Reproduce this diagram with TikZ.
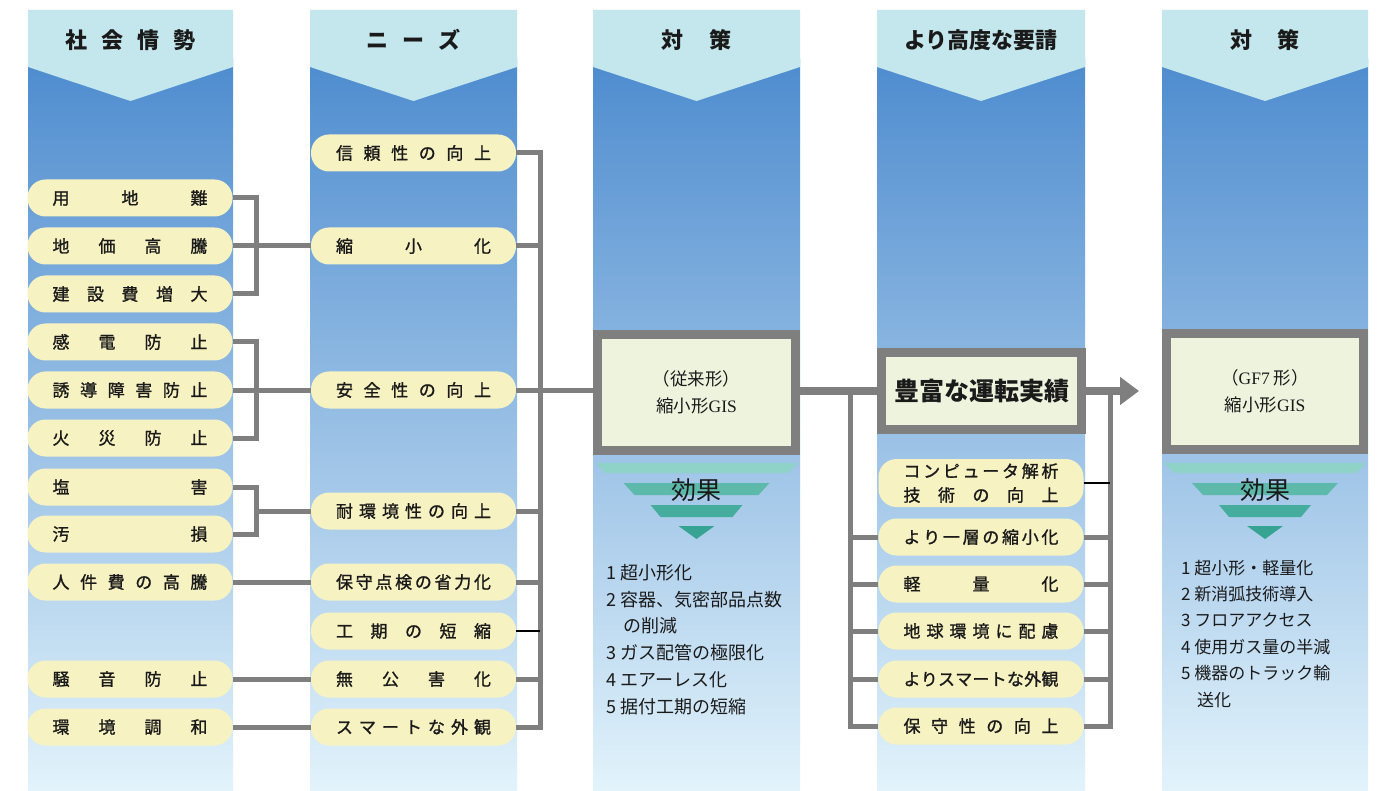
\documentclass[tikz,border=0pt]{standalone}
\usepackage{fontspec}
\setmainfont{Noto Sans CJK JP}
\newfontfamily\medfont[FakeBold=1.2]{Noto Sans CJK JP}
\newfontfamily\serlat{Liberation Serif}
\usetikzlibrary{arrows.meta,calc}
\definecolor{hdr}{HTML}{C3E7EC}
\definecolor{ctop}{HTML}{4E8CCF}
\definecolor{cmid}{HTML}{A5CFEE}
\definecolor{cbot}{HTML}{E2F3FB}
\definecolor{pillc}{HTML}{F7F2C2}
\definecolor{linec}{HTML}{7F7F7F}
\definecolor{boxc}{HTML}{EEF3DE}
\definecolor{tA}{HTML}{8FD3C8}
\definecolor{tB}{HTML}{5DB9AA}
\definecolor{tC}{HTML}{45AD9E}
\definecolor{tD}{HTML}{36A393}
\definecolor{txt}{HTML}{1A1A1A}
\def\spA#1{\ifx#1\relax\else#1\expandafter\spB\fi}
\def\spB#1{\ifx#1\relax\else\hfill#1\expandafter\spB\fi}
\newcommand\jfill[1]{\makebox[155pt][c]{\spA#1\relax}}
\tikzset{
  pill/.style={fill=pillc, rounded corners=18pt, minimum width=205pt, minimum height=37pt,
    inner sep=0pt, text=txt, font=\fontsize{17}{22}\medfont},
  conn/.style={draw=linec, line width=5pt},
  flow/.style={draw=linec, line width=8pt},
  thinstub/.style={draw=black, line width=1.6pt},
  gbox/.style={draw=linec, line width=9pt, fill=boxc, inner sep=0pt, align=center, text=txt},
  hdrtext/.style={font=\fontsize{22}{26}\selectfont\bfseries, text=txt},
  listtext/.style={anchor=west, inner sep=0pt, text=txt},
}
\begin{document}
\begin{tikzpicture}[x=1pt,y=-1pt]
\useasboundingbox (0,0) rectangle (1381,791);
\fill[white] (0,0) rectangle (1381,791);
% columns
\foreach \xa/\xb in {28/233, 310/517, 593/800, 877/1085, 1162/1368}{
  \shade[top color=ctop, middle color=cmid, bottom color=cbot] (\xa,60) rectangle (\xb,791);
  \fill[hdr] (\xa,10) -- (\xb,10) -- (\xb,67) -- ({(\xa+\xb)/2},101) -- (\xa,67) -- cycle;
}
% headers
\node[hdrtext] (h1) at (130.5,40) {社\hspace{14pt}会\hspace{14pt}情\hspace{14pt}勢};
\node[hdrtext] (h2) at (413.5,40) {ニ\hspace{14pt}ー\hspace{14pt}ズ};
\node[hdrtext] (h3) at (696.5,40) {対\hspace{26pt}策};
\node[hdrtext] (h4) at (981,40) {より高度な要請};
\node[hdrtext] (h5) at (1265,40) {対\hspace{26pt}策};
% column 1
\node[pill] (a1) at (130,198) {\jfill{用地難}};
\node[pill] (a2) at (130,246) {\jfill{地価高騰}};
\node[pill] (a3) at (130,294) {\jfill{建設費増大}};
\node[pill] (a4) at (130,342) {\jfill{感電防止}};
\node[pill] (a5) at (130,390) {\jfill{誘導障害防止}};
\node[pill] (a6) at (130,438) {\jfill{火災防止}};
\node[pill] (a7) at (130,487) {\jfill{塩害}};
\node[pill] (a8) at (130,534) {\jfill{汚損}};
\node[pill] (a9) at (130,582) {\jfill{人件費の高騰}};
\node[pill] (a10) at (130,679) {\jfill{騒音防止}};
\node[pill] (a11) at (130,727) {\jfill{環境調和}};
% column 2
\node[pill] (b1) at (413.5,153) {\jfill{信頼性の向上}};
\node[pill] (b2) at (413.5,246) {\jfill{縮小化}};
\node[pill] (b3) at (413.5,390) {\jfill{安全性の向上}};
\node[pill] (b4) at (413.5,511) {\jfill{耐環境性の向上}};
\node[pill] (b5) at (413.5,582) {\jfill{保守点検の省力化}};
\node[pill] (b6) at (413.5,631) {\jfill{工期の短縮}};
\node[pill] (b7) at (413.5,679) {\jfill{無公害化}};
\node[pill] (b8) at (413.5,727) {\jfill{スマートな外観}};
% column 4 pills
\node[pill, minimum height=48pt, align=center, font=\fontsize{17}{24}\medfont] (d1) at (981,483) {\jfill{コンピュータ解析}\\\jfill{技術の向上}};
\node[pill] (d2) at (981,537) {\jfill{より一層の縮小化}};
\node[pill] (d3) at (981,584) {\jfill{軽量化}};
\node[pill] (d4) at (981,631) {\jfill{地球環境に配慮}};
\node[pill] (d5) at (981,679) {\jfill{よりスマートな外観}};
\node[pill] (d6) at (981,726) {\jfill{保守性の向上}};
% boxes
\node[gbox, minimum width=198pt, minimum height=116pt, font=\fontsize{17.5}{27}\selectfont] (box3) at (696.5,392.5) {（従来形）\\縮小形{\serlat GIS}};
\node[gbox, minimum width=200pt, minimum height=77pt, font=\fontsize{25}{30}\selectfont\bfseries] (box4) at (981.5,391) {豊富な運転実績};
\node[gbox, minimum width=197pt, minimum height=116pt, font=\fontsize{17.5}{27}\selectfont] (box5) at (1265,391.5) {（{\serlat GF7} 形）\\縮小形{\serlat GIS}};
% connectors column 1 -> 2
\draw[conn] (a1.east) -- ++(24,0) |- (a3.east);
\draw[conn] (a2.east) -- (b2.west);
\draw[conn] (a4.east) -- ++(24,0) |- (a6.east);
\draw[conn] (a5.east) -- (b3.west);
\draw[conn] (a7.east) -- ++(24,0) |- (a8.east);
\coordinate (m3) at ($(a7.east)+(24,0)$);
\draw[conn] (b4.west) -- (b4.west -| m3);
\draw[conn] (a9.east) -- (b5.west);
\draw[conn] (a10.east) -- (b7.west);
\draw[conn] (a11.east) -- (b8.west);
% column 2 bus
\coordinate (busB) at (540,153);
\draw[conn] (b1.east) -| (busB) |- (b8.east);
\draw[conn] (b2.east) -- (b2.east -| busB);
\draw[conn] (b3.east) -- (b3.east -| box3.west);
\draw[conn] (b4.east) -- (b4.east -| busB);
\draw[conn] (b5.east) -- (b5.east -| busB);
\draw[thinstub] (b6.east) -- (b6.east -| busB);
\draw[conn] (b7.east) -- (b7.east -| busB);
% column 3 -> 4 -> 5
\coordinate (j1) at (850,391);
\draw[flow] (box3.east |- box4.west) -- (box4.west);
\draw[conn] (j1) |- (d6.west);
\foreach \n in {d2,d3,d4,d5}{\draw[conn] (\n.west) -- (\n.west -| j1);}
\coordinate (arrowend) at (1139,391);
\draw[flow, -{Triangle[length=19pt,width=27pt]}] (box4.east) -- (arrowend);
\coordinate (j2) at (1110,391);
\draw[conn] (j2) |- (d6.east);
\foreach \n in {d2,d3,d4,d5}{\draw[conn] (\n.east) -- (\n.east -| j2);}
\draw[thinstub] (d1.east) -- (d1.east -| j2);
% effect markers
\foreach \cx/\nm in {696.5/e3, 1265/e5}{
  \fill[tA] (\cx-101,463) -- (\cx+101,463) -- (\cx+91,473) -- (\cx-91,473) -- cycle;
  \fill[tB] (\cx-73,483) -- (\cx+73,483) -- (\cx+62,495) -- (\cx-62,495) -- cycle;
  \fill[tC] (\cx-46,505) -- (\cx+46,505) -- (\cx+36,517) -- (\cx-36,517) -- cycle;
  \fill[tD] (\cx-18,526) -- (\cx+18,526) -- (\cx,539) -- cycle;
  \node[text=txt, font=\fontsize{25}{28}\selectfont, inner sep=0pt] (\nm) at (\cx,490) {効果};
}
% lists
\begin{scope}[every node/.style={listtext, font=\fontsize{18}{22}\selectfont}]
\node (l31) at (606,573) {1 超小形化};
\node (l32) at (606,600) {2 容器、気密部品点数};
\node (l33) at (623,626) {の削減};
\node (l34) at (606,653) {3 ガス配管の極限化};
\node (l35) at (606,680) {4 エアーレス化};
\node (l36) at (606,707) {5 据付工期の短縮};
\end{scope}
\begin{scope}[every node/.style={listtext, font=\fontsize{17}{21}\selectfont}]
\node (l51) at (1181,568) {1 超小形・軽量化};
\node (l52) at (1181,594) {2 新消弧技術導入};
\node (l53) at (1181,620) {3 フロアアクセス};
\node (l54) at (1181,647) {4 使用ガス量の半減};
\node (l55) at (1181,673) {5 機器のトラック輸};
\node (l56) at (1197,700) {送化};
\end{scope}
\end{tikzpicture}
\end{document}
